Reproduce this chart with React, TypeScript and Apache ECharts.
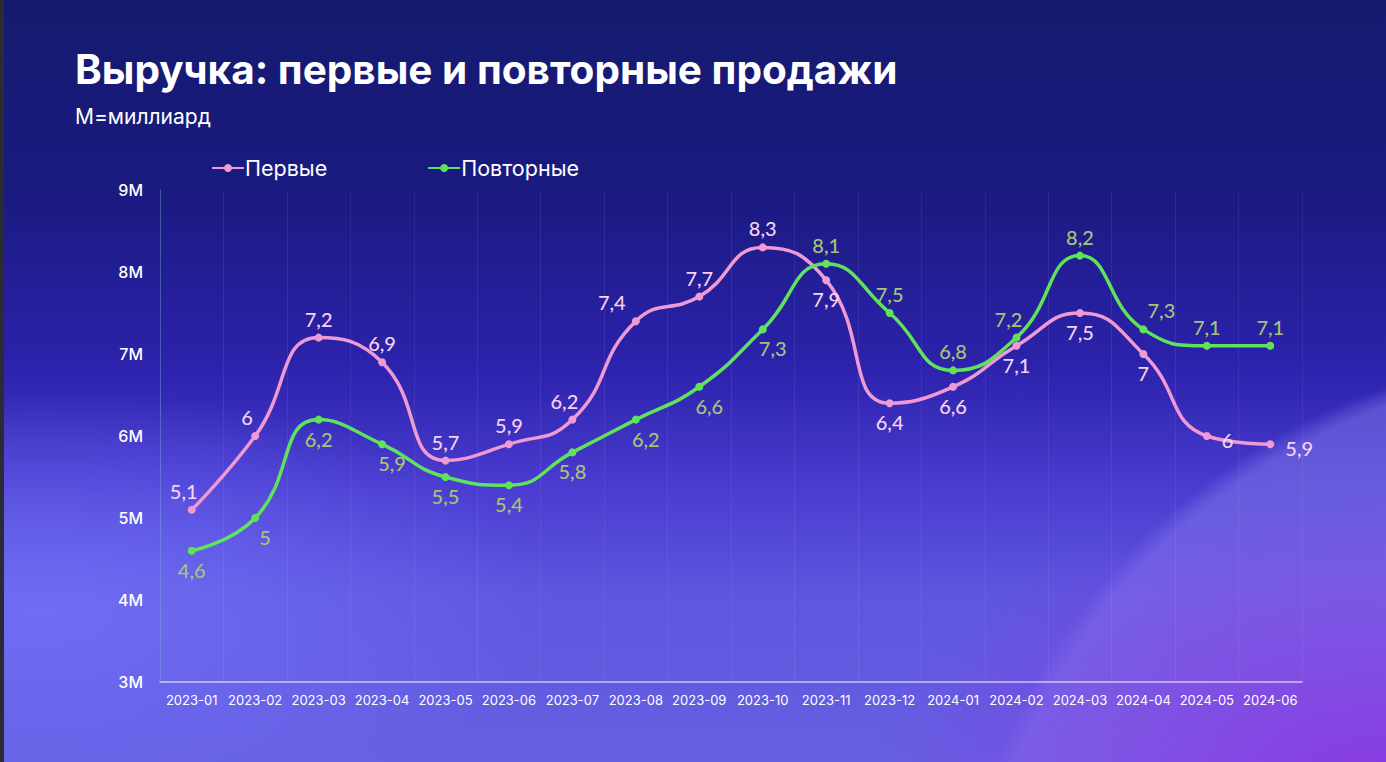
import React, { useEffect, useRef } from "react";
import * as echarts from "echarts";

const categories = [
  "2023-01", "2023-02", "2023-03", "2023-04", "2023-05", "2023-06",
  "2023-07", "2023-08", "2023-09", "2023-10", "2023-11", "2023-12",
  "2024-01", "2024-02", "2024-03", "2024-04", "2024-05", "2024-06",
];
const firstSales = [5.1, 6, 7.2, 6.9, 5.7, 5.9, 6.2, 7.4, 7.7, 8.3, 7.9, 6.4, 6.6, 7.1, 7.5, 7, 6, 5.9];
const repeatSales = [4.6, 5, 6.2, 5.9, 5.5, 5.4, 5.8, 6.2, 6.6, 7.3, 8.1, 7.5, 6.8, 7.2, 8.2, 7.3, 7.1, 7.1];
const yTicks = { min: 3, max: 9, interval: 1 };

// label placement per point (style only)
const firstLabelPos = ["tl", "tl", "top", "top", "top", "top", "tl", "tl2", "top", "top", "bottom", "bottom", "bottom", "bottom", "bottom", "bottom", "right", "right"];
const repeatLabelPos = ["bottom", "br", "bottom", "br", "bottom", "bottom", "bottom", "br", "br", "br", "top", "top", "top", "tl", "top", "tr", "top", "top"];

function labelStyle(p: string) {
  switch (p) {
    case "tl": return { position: "top", offset: [-8, 0] };
    case "tl2": return { position: "top", offset: [-24, 0] };
    case "br": return { position: "bottom", offset: [10, 0] };
    case "tr": return { position: "top", offset: [18, 0] };
    case "right": return { position: "right", offset: [6, 4] };
    default: return { position: p };
  }
}

const fmt = (v: number) => String(v).replace(".", ",");

export default function App() {
  const ref = useRef<HTMLDivElement>(null);
  useEffect(() => {
    if (!ref.current) return;
    const chart = echarts.init(ref.current, null, { renderer: "svg" });
    const PINK = "#ef9ad3";
    const GREEN = "#5fe35a";
    chart.setOption({
      animation: false,
      backgroundColor: "transparent",
      textStyle: { fontFamily: "Inter, 'Noto Sans', sans-serif" },
      title: {
        text: "Выручка: первые и повторные продажи",
        subtext: "М=миллиард",
        left: 70,
        top: 44,
        itemGap: 16,
        textStyle: { color: "#ffffff", fontSize: 40.5, fontWeight: "bold", fontFamily: "Inter, sans-serif" },
        subtextStyle: { color: "#ffffff", fontSize: 21, fontFamily: "Inter, sans-serif" },
      },
      legend: {
        left: 206,
        top: 152,
        itemWidth: 32,
        itemHeight: 10,
        itemGap: 100,
        textStyle: { color: "#ffffff", fontSize: 21.5, padding: [0, 0, 0, -4] },
        data: ["Первые", "Повторные"],
      },
      grid: { left: 160, right: 84, top: 190, bottom: 80, containLabel: false },
      xAxis: {
        type: "category",
        data: categories,
        boundaryGap: true,
        axisLine: { lineStyle: { color: "rgba(225,215,255,0.85)", width: 1.5 } },
        axisTick: { show: false },
        axisLabel: { color: "#ffffff", fontSize: 13, margin: 11, interval: 0 },
        splitLine: { show: true, lineStyle: { color: "rgba(255,255,255,0.07)", width: 1 } },
      },
      yAxis: {
        type: "value",
        min: yTicks.min,
        max: yTicks.max,
        interval: yTicks.interval,
        axisLine: { show: true, lineStyle: { color: "rgba(110,170,210,0.35)", width: 1 } },
        axisTick: { show: false },
        splitLine: { show: false },
        axisLabel: { color: "#ffffff", fontSize: 16, fontWeight: 500, margin: 17, formatter: (v: number) => `${v}M` },
      },
      series: [
        {
          name: "Первые",
          type: "line",
          smooth: 0.5,
          symbol: "circle",
          symbolSize: 8,
          color: PINK,
          lineStyle: { width: 3.5, color: PINK },
          itemStyle: { color: PINK },
          label: {
            show: true,
            color: "#f6d2f0",
            fontSize: 20,
            fontWeight: 500,
            fontFamily: "Lato, 'Open Sans', sans-serif",
            formatter: (p: any) => fmt(p.value),
          },
          data: firstSales.map((v, i) => ({ value: v, label: labelStyle(firstLabelPos[i]) })),
        },
        {
          name: "Повторные",
          type: "line",
          smooth: 0.5,
          symbol: "circle",
          symbolSize: 8,
          color: GREEN,
          lineStyle: { width: 3.5, color: GREEN },
          itemStyle: { color: GREEN },
          label: {
            show: true,
            color: "#a8c27a",
            fontSize: 20,
            fontWeight: 500,
            fontFamily: "Lato, 'Open Sans', sans-serif",
            formatter: (p: any) => fmt(p.value),
          },
          data: repeatSales.map((v, i) => ({ value: v, label: labelStyle(repeatLabelPos[i]) })),
        },
      ],
    });
    return () => chart.dispose();
  }, []);

  const bg = [
    "radial-gradient(ellipse 520px 300px at 1386px 790px, rgba(140,50,225,0.9) 0%, rgba(140,50,225,0) 100%)",
    "radial-gradient(circle 650px at 1600px 1000px, rgba(135,125,238,0.6) 0%, rgba(130,120,235,0.5) 97%, rgba(130,120,235,0) 100%)",
    "radial-gradient(ellipse 520px 220px at 40px 610px, rgba(115,115,250,0.8) 0%, rgba(115,115,250,0) 100%)",
    "linear-gradient(180deg, #141b6e 0%, #1a1a80 25%, #2c22ac 48%, #4a3cd0 64%, #5e56de 78%, #6660e2 100%)",
  ].join(", ");

  return (
    <div
      style={{
        position: "absolute",
        left: 0,
        top: 0,
        width: 1386,
        height: 762,
        background: bg,
        overflow: "hidden",
      }}
    >
      <div style={{ position: "absolute", left: 0, top: 0, width: 4, height: 762, background: "#2b2b33" }} />
      <div ref={ref} style={{ position: "absolute", left: 0, top: 0, width: 1386, height: 762 }} />
    </div>
  );
}
